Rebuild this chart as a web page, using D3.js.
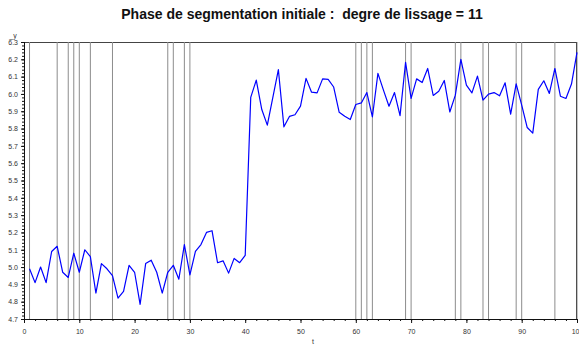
<!DOCTYPE html>
<html>
<head>
<meta charset="utf-8">
<script src="https://cdn.jsdelivr.net/npm/d3@7"></script>
<style>
  html, body { margin: 0; padding: 0; background: #fff; }
  svg { display: block; }
  text { font-family: "Liberation Sans", Arial, sans-serif; }
  .title { white-space: pre; }
</style>
</head>
<body>
<svg id="chart" width="579" height="349"></svg>
<script>
// Signal samples, t = 1 .. 100
const tValues = d3.range(1, 101);
const yValues = [
  4.99, 4.91, 5.00, 4.91, 5.09, 5.12, 4.97, 4.94, 5.08, 4.97,
  5.10, 5.06, 4.85, 5.02, 4.99, 4.95, 4.82, 4.86, 5.01, 4.97,
  4.785, 5.02, 5.04, 4.97, 4.85, 4.97, 5.01, 4.93, 5.13, 4.955,
  5.09, 5.13, 5.20, 5.21, 5.025, 5.036, 4.965, 5.05, 5.025, 5.067,
  5.98, 6.08, 5.91, 5.82, 5.98, 6.14, 5.81, 5.87, 5.88, 5.93,
  6.09, 6.01, 6.006, 6.087, 6.084, 6.04, 5.894, 5.871, 5.852, 5.939,
  5.948, 6.008, 5.867, 6.119, 6.022, 5.929, 6.008, 5.875, 6.182, 5.974,
  6.087, 6.066, 6.147, 5.991, 6.016, 6.078, 5.896, 5.993, 6.20, 6.051,
  6.006, 6.103, 5.964, 5.999, 6.008, 5.989, 6.064, 5.883, 6.058, 5.935,
  5.806, 5.774, 6.026, 6.076, 6.003, 6.147, 5.987, 5.974, 6.057, 6.24
];

// Segment boundaries found by the initial segmentation
const breakpoints = [1, 6, 8, 9, 10, 12, 16, 26, 27, 29, 30,
  60, 61, 62, 63, 69, 70, 78, 79, 83, 84, 89, 90, 96, 100];

const xTicks = d3.range(0, 101, 10);
const xMinorTicks = d3.range(0, 101, 2);
const yTicks = d3.range(47, 64).map(v => v / 10);
const yMinorTicks = d3.range(235, 316).map(v => v / 50);

const titleText = "Phase de segmentation initiale :  degre de lissage = 11";
const xLabel = "t";
const yLabel = "_y";

const svg = d3.select("#chart");
const x = d3.scaleLinear().domain([0, 100]).range([24, 577]);
const y = d3.scaleLinear().domain([4.7, 6.3]).range([319, 42]);

// Title
svg.append("text")
  .attr("class", "title")
  .attr("xml:space", "preserve")
  .attr("x", 302).attr("y", 19)
  .attr("text-anchor", "middle")
  .attr("font-size", 14)
  .attr("font-weight", "bold")
  .attr("fill", "#111")
  .text(titleText);

// Plot box (top and right edges)
svg.append("line")
  .attr("x1", x(0)).attr("x2", x(100))
  .attr("y1", y(6.3) + 0.5).attr("y2", y(6.3) + 0.5)
  .attr("stroke", "#444").attr("stroke-width", 1);
svg.append("line")
  .attr("x1", x(100) - 0.5).attr("x2", x(100) - 0.5)
  .attr("y1", y(6.3)).attr("y2", y(4.7))
  .attr("stroke", "#111").attr("stroke-width", 1);

// Vertical segment boundaries
svg.append("g")
  .selectAll("line")
  .data(breakpoints)
  .join("line")
  .attr("x1", d => x(d)).attr("x2", d => x(d))
  .attr("y1", y(6.3)).attr("y2", y(4.7))
  .attr("stroke", "#8c8c8c")
  .attr("stroke-width", 1);

// Series line
const line = d3.line()
  .x((d, i) => x(tValues[i]))
  .y(d => y(d));
svg.append("path")
  .datum(yValues)
  .attr("d", line)
  .attr("fill", "none")
  .attr("stroke", "#0000ff")
  .attr("stroke-width", 1.2)
  .attr("stroke-linejoin", "round");

// X axis
const xAxisMinor = d3.axisBottom(x).tickValues(xMinorTicks).tickSize(2).tickFormat("");
svg.append("g")
  .attr("transform", `translate(0,${y(4.7)})`)
  .call(xAxisMinor)
  .call(g => g.select(".domain").remove())
  .call(g => g.selectAll("line").attr("stroke", "#111"));
const xAxis = d3.axisBottom(x).tickValues(xTicks).tickSize(4).tickPadding(6)
  .tickFormat(d3.format("d"));
svg.append("g")
  .attr("transform", `translate(0,${y(4.7)})`)
  .call(xAxis)
  .call(g => g.select(".domain").attr("stroke", "#111").attr("d", `M${x(0)},0.5H${x(100)}`))
  .call(g => g.selectAll("line").attr("stroke", "#111"))
  .call(g => g.selectAll("text").attr("font-size", 7).attr("fill", "#333")
    .attr("font-family", "'Liberation Sans', Arial, sans-serif"));

// Y axis
const yAxisMinor = d3.axisLeft(y).tickValues(yMinorTicks).tickSize(2).tickFormat("");
svg.append("g")
  .attr("transform", `translate(${x(0)},0)`)
  .call(yAxisMinor)
  .call(g => g.select(".domain").remove())
  .call(g => g.selectAll("line").attr("stroke", "#111"));
const yAxis = d3.axisLeft(y).tickValues(yTicks).tickSize(3).tickPadding(3)
  .tickFormat(d3.format(".1f"));
svg.append("g")
  .attr("transform", `translate(${x(0)},0)`)
  .call(yAxis)
  .call(g => g.select(".domain").attr("stroke", "#111").attr("d", `M0.5,${y(6.3)}V${y(4.7)}`))
  .call(g => g.selectAll("line").attr("stroke", "#111"))
  .call(g => g.selectAll("text").attr("font-size", 7).attr("fill", "#333")
    .attr("font-family", "'Liberation Sans', Arial, sans-serif"));

// Axis labels
svg.append("text")
  .attr("x", 313).attr("y", 344)
  .attr("text-anchor", "middle")
  .attr("font-size", 7).attr("fill", "#333")
  .text(xLabel);
svg.append("text")
  .attr("x", 13).attr("y", 38)
  .attr("text-anchor", "middle")
  .attr("font-size", 7).attr("fill", "#333")
  .text(yLabel);
</script>
</body>
</html>
